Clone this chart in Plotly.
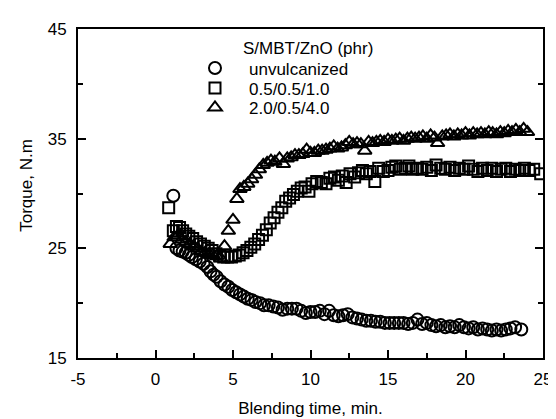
import plotly.graph_objects as go

# Unvulcanized
unv_x = [1.15, 1.35, 1.55, 1.75, 1.95, 2.15, 2.35, 2.6, 2.85, 3.1, 3.35, 3.55, 3.75, 3.95,
         4.2, 4.45, 4.7, 4.95, 5.2, 5.45, 5.7, 5.95, 6.2, 6.45, 6.75, 7.0, 7.3, 7.6, 7.9,
         8.2, 8.5, 8.8, 9.1, 9.4, 9.7, 10.0, 10.3, 10.6, 10.9, 11.2, 11.5, 11.8, 12.1, 12.4,
         12.7, 13.0, 13.3, 13.6, 13.9, 14.2, 14.5, 14.8, 15.1, 15.4, 15.7, 16.0, 16.3, 16.6,
         16.9, 17.2, 17.5, 17.8, 18.1, 18.4, 18.7, 19.0, 19.3, 19.6, 19.9, 20.2, 20.5, 20.8,
         21.1, 21.4, 21.7, 22.0, 22.3, 22.6, 22.9, 23.2, 23.6]
unv_y = [29.8, 25.0, 24.8, 24.7, 24.6, 24.4, 24.2, 24.0, 23.8, 23.6, 23.3, 22.9, 22.6, 22.4,
         22.0, 21.7, 21.5, 21.2, 21.0, 20.8, 20.6, 20.4, 20.3, 20.1, 20.0, 19.8, 19.8, 19.7, 19.6,
         19.4, 19.5, 19.5, 19.5, 19.3, 19.1, 19.2, 19.2, 19.3, 19.0, 19.3, 18.9, 18.8, 18.9, 19.0,
         18.7, 18.6, 18.5, 18.4, 18.4, 18.3, 18.3, 18.2, 18.2, 18.2, 18.2, 18.2, 18.1, 18.2,
         18.5, 18.1, 18.2, 18.0, 17.9, 18.0, 17.8, 17.9, 17.8, 18.0, 17.8, 17.7, 17.8, 17.6,
         17.7, 17.6, 17.5, 17.6, 17.5, 17.6, 17.7, 17.8, 17.6]

# 0.5/0.5/1.0
s1_x = [0.85, 1.15, 1.35, 1.55, 1.75, 1.95, 2.15, 2.4, 2.65, 2.9, 3.15, 3.4, 3.65, 3.9, 4.15,
        4.4, 4.65, 4.9, 5.15, 5.4, 5.65, 5.9, 6.15, 6.4, 6.65, 6.9, 7.15, 7.4, 7.65, 7.9, 8.15,
        8.4, 8.65, 8.9, 9.15, 9.4, 9.65, 9.9, 10.1, 10.4, 10.7, 11.0, 11.25, 11.55, 11.8, 12.05,
        12.3, 12.55, 12.85, 13.1, 13.35, 13.6, 13.85, 14.15, 14.4, 14.7, 15.0, 15.25, 15.5, 15.8,
        16.1, 16.35, 16.6, 16.9, 17.2, 17.5, 17.8, 18.1, 18.4, 18.7, 19.0, 19.3, 19.6, 19.9,
        20.2, 20.5, 20.8, 21.1, 21.4, 21.7, 22.0, 22.3, 22.6, 22.9, 23.2, 23.5, 23.8, 24.1,
        24.4, 24.85]
s1_y = [28.7, 26.6, 27.0, 26.9, 26.6, 26.3, 26.1, 25.9, 25.6, 25.4, 25.2, 25.0, 24.8, 24.5, 24.3,
        24.2, 24.2, 24.2, 24.3, 24.4, 24.6, 24.8, 25.1, 25.4, 25.8, 26.2, 26.7, 27.3, 27.8, 28.3, 28.7,
        29.3, 29.6, 29.9, 30.2, 30.5, 30.6, 30.2, 30.9, 31.1, 31.0, 30.9, 31.4, 31.5, 31.2, 31.6,
        31.0, 31.8, 31.5, 31.9, 32.1, 31.8, 32.0, 31.1, 32.3, 32.0, 32.1, 32.4, 32.5, 32.2,
        32.3, 32.5, 32.2, 32.3, 32.2, 32.4, 32.1, 32.6, 32.3, 32.2, 32.4, 32.1, 32.3, 32.2,
        32.5, 32.2, 32.0, 32.3, 32.1, 32.3, 32.0, 32.2, 32.3, 32.0, 32.2, 32.1, 32.3, 32.1,
        32.2, 31.8]

# 2.0/0.5/4.0
s2_x = [0.95, 1.2, 1.45, 1.7, 1.95, 2.2, 2.45, 2.7, 2.95, 3.2, 3.45, 3.7, 3.95, 4.2, 4.45, 4.7,
        5.0, 5.25, 5.45, 5.7, 5.95, 6.2, 6.45, 6.7, 6.95, 7.2, 7.45, 7.7, 8.0, 8.25, 8.5, 8.75,
        9.0, 9.25, 9.5, 9.75, 10.0, 10.25, 10.5, 10.75, 11.0, 11.25, 11.5, 11.75, 12.0, 12.25,
        12.5, 12.75, 13.0, 13.25, 13.5, 13.75, 14.0, 14.25, 14.5, 14.75, 15.0, 15.25, 15.5,
        15.75, 16.0, 16.25, 16.5, 16.75, 17.0, 17.25, 17.5, 17.75, 18.0, 18.2, 18.5, 18.75,
        19.0, 19.25, 19.5, 19.75, 20.0, 20.25, 20.5, 20.75, 21.0, 21.25, 21.5, 21.75, 22.0,
        22.25, 22.5, 22.75, 23.0, 23.25, 23.5, 23.75, 24.0]
s2_y = [25.4, 26.0, 26.2, 25.8, 25.6, 25.4, 25.2, 25.0, 24.7, 24.6, 24.5, 24.4, 24.3, 24.1, 25.2, 26.6,
        27.6, 29.5, 30.4, 30.6, 30.9, 31.3, 31.7, 32.2, 32.6, 32.8, 33.0, 32.9, 33.2, 32.7, 33.2, 33.3,
        33.5, 33.5, 33.6, 34.0, 33.7, 33.7, 33.9, 33.9, 34.0, 34.1, 34.3, 34.1, 34.2, 34.4,
        34.7, 34.5, 34.6, 34.5, 33.9, 34.7, 34.6, 34.7, 34.8, 34.7, 34.9, 34.8, 34.9,
        35.0, 34.8, 35.0, 35.1, 35.0, 35.1, 35.2, 35.0, 35.3, 35.1, 34.6, 35.2, 35.3,
        35.4, 35.2, 35.4, 35.3, 35.5, 35.3, 35.5, 35.4, 35.5, 35.4, 35.6, 35.5, 35.4,
        35.6, 35.5, 35.7, 35.6, 35.8, 35.6, 35.9, 35.6]

names = ["unvulcanized", "0.5/0.5/1.0", "2.0/0.5/4.0"]
legend_title = "S/MBT/ZnO (phr)"
x_title = "Blending time, min."
y_title = "Torque, N.m"
x_tickvals = [-5, 0, 5, 10, 15, 20, 25]
x_ticktext = ["-5", "0", "5", "10", "15", "20", "25"]

FONT = "Liberation Sans, Arial, sans-serif"
TXT = dict(family=FONT, size=17, color="black")

fig = go.Figure()
series = [(unv_x, unv_y, "circle-open", 12), (s1_x, s1_y, "square-open", 11),
          (s2_x, s2_y, "triangle-up-open", 12)]
legend_ids = ["legend", "legend2", "legend3"]
for (xs, ys, sym, sz), nm, lg in zip(series, names, legend_ids):
    fig.add_trace(go.Scatter(
        x=xs, y=ys, mode="markers", name=nm, legend=lg,
        marker=dict(symbol=sym, size=sz, color="black", line=dict(color="black", width=2)),
    ))

leg_common = dict(x=0.2215, xanchor="left", yanchor="middle", bgcolor="rgba(0,0,0,0)",
                  itemwidth=58, font=TXT, borderwidth=0)
fig.update_layout(
    width=556, height=419,
    margin=dict(l=70, r=12, t=18, b=59),
    paper_bgcolor="white", plot_bgcolor="white",
    font=TXT,
    showlegend=True,
    legend=dict(y=0.880, **leg_common),
    legend2=dict(y=0.819, **leg_common),
    legend3=dict(y=0.760, **leg_common),
    annotations=[
        dict(text=legend_title, xref="paper", yref="paper", x=0.350, y=0.941,
             xanchor="left", yanchor="middle", showarrow=False, font=TXT),
        dict(text=y_title, xref="paper", yref="paper", x=-0.11, y=0.526,
             xanchor="center", yanchor="middle", textangle=-90, showarrow=False, font=TXT),
    ],
)
fig.update_xaxes(
    range=[-5, 25], tickvals=x_tickvals, ticktext=x_ticktext, ticks="inside", ticklen=8, tickwidth=2,
    tickcolor="black", showline=True, linecolor="black", linewidth=2, mirror=True,
    showgrid=False, zeroline=False, ticklabelstandoff=5,
    minor=dict(dtick=2.5, tick0=-5, ticks="inside", ticklen=5, tickwidth=2, tickcolor="black", showgrid=False),
    title=dict(text=x_title, standoff=14, font=TXT),
)
fig.update_yaxes(
    range=[15, 45], tick0=15, dtick=10, ticks="inside", ticklen=8, tickwidth=2,
    tickcolor="black", showline=True, linecolor="black", linewidth=2, mirror="ticks",
    showgrid=False, zeroline=False, ticklabelstandoff=6,
    minor=dict(dtick=5, tick0=15, ticks="inside", ticklen=5, tickwidth=2, tickcolor="black", showgrid=False),
)
fig.write_html("out.html")
